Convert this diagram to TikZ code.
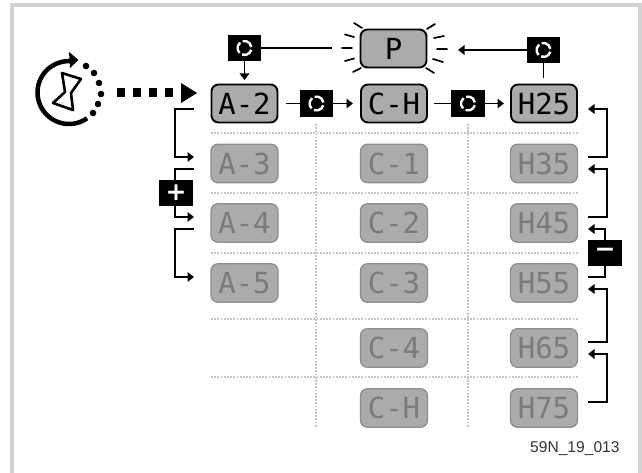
\documentclass[tikz,border=0pt]{standalone}
\usepackage{fontspec}
\setmainfont{Liberation Sans}
\newfontfamily\lcdfont{DejaVu Sans Mono}
\newfontfamily\signfont{DejaVu Sans}
\usetikzlibrary{arrows.meta,calc}
\definecolor{framegray}{HTML}{D2D3D5}
\definecolor{boxfill}{HTML}{ABABAB}
\definecolor{dimedge}{HTML}{8E8E8E}
\definecolor{dimtext}{HTML}{7B7B7B}
\definecolor{dotgray}{HTML}{C4C4C4}
\tikzset{
  lcdon/.style={draw=black,line width=1.9pt,fill=boxfill,rounded corners=7pt,minimum width=66pt,minimum height=38pt,inner sep=0pt,text=black,font=\lcdfont\fontsize{29}{29}\selectfont},
  lcdoff/.style={draw=dimedge,line width=1.3pt,fill=boxfill,rounded corners=7pt,minimum width=67pt,minimum height=38.5pt,inner sep=0pt,text=dimtext,font=\lcdfont\fontsize{29}{29}\selectfont},
  iconbox/.style={fill=black,minimum width=33.5pt,minimum height=26.5pt,inner sep=0pt},
  signbox/.style={fill=black,minimum width=33.5pt,minimum height=26.5pt,inner sep=0pt,text=white,font=\signfont\bfseries\fontsize{25}{25}\selectfont},
  conn/.style={line width=1.9pt,draw=black},
  tip/.style={-{Triangle[length=6.5pt,width=9.5pt]}},
  guide/.style={draw=dotgray,line width=1.8pt,dash pattern=on 1.7pt off 1.5pt},
  ray/.style={line width=1.7pt,draw=black,line cap=round},
  cyc/.style={draw=white,line width=2.4pt},
}
\newcommand{\cycicon}[1]{%
  \foreach \aa in {15,135,255}{\draw[cyc] ($(#1)+({7*cos(\aa)},{7*sin(\aa)})$) arc[start angle=\aa,end angle=\aa+96,radius=7];}}
\begin{document}
\begin{tikzpicture}[x=1pt,y=-1pt]
\useasboundingbox (0,0) rectangle (642,473);
\fill[white] (0,0) rectangle (642,473);
% frame
\draw[framegray,line width=4pt] (12,473) -- (12,5) -- (640,5) -- (640,473);
% guides
\foreach \yy in {133,193,253,319,377}{\draw[guide] (211,\yy) -- (578,\yy);}
\foreach \xx in {316,468}{\draw[guide] (\xx,124) -- (\xx,427);}
% boxes
\node[lcdon] (P) at (393.5,48.5) {P};
\node[lcdon] (a2) at (244.5,103.5) {A-2};
\node[lcdon] (ch) at (394,103.5) {C-H};
\node[lcdon] (h25) at (544,103.5) {H25};
\node[lcdoff] (a3) at (244.5,163.5) {A-3};
\node[lcdoff] (a4) at (244.5,223) {A-4};
\node[lcdoff] (a5) at (244.5,283) {A-5};
\node[lcdoff] (c1) at (394,163.5) {C-1};
\node[lcdoff] (c2) at (394,223) {C-2};
\node[lcdoff] (c3) at (394,283) {C-3};
\node[lcdoff] (c4) at (394,348) {C-4};
\node[lcdoff] (c5) at (394,408) {C-H};
\node[lcdoff] (h3) at (544,163.5) {H35};
\node[lcdoff] (h4) at (544,223) {H45};
\node[lcdoff] (h5) at (544,283) {H55};
\node[lcdoff] (h6) at (544,348) {H65};
\node[lcdoff] (h7) at (544,408) {H75};
% icon boxes
\node[iconbox] (i1) at (244.5,48) {};
\node[iconbox] (i2) at (543.5,50) {};
\node[iconbox] (i3) at (316.5,103.5) {};
\node[iconbox] (i4) at (468,103.5) {};
\cycicon{i1}\cycicon{i2}\cycicon{i3}\cycicon{i4}
\node[signbox] (plus) at (176,193) {+};
\node[signbox] (minus) at (605,253) {−};
% top connectors
\coordinate (pl) at (332,48);
\coordinate (pr) at (458,50);
\coordinate (h25top) at (543.5,78);
\coordinate (a2top) at (244.5,80);
\draw[conn] (i1.east) -- (pl);
\draw[conn,tip] (i1.south) -- (a2top);
\draw[conn,tip] (i2.west) -- (pr);
\draw[conn] (i2.south) -- (h25top);
\coordinate (a2r) at (286,103.5);
\coordinate (chl) at (353,103.5);
\coordinate (chr) at (434,103.5);
\coordinate (h25l) at (504,103.5);
\draw[conn] (a2r) -- (i3.west);
\draw[conn,tip] (i3.east) -- (chl);
\draw[conn] (chr) -- (i4.west);
\draw[conn,tip] (i4.east) -- (h25l);
% rays
\foreach \xa/\ya/\xb/\yb in {342/48/352/48,345/34.5/354/37,345/61/354/58.5,354/23/362/28,353/72/361/68,437/49/447/49,434/38/444/36,433/59/443/62,427/29/435/24,426/68/434/73}{\draw[ray] (\xa,\ya) -- (\xb,\yb);}
% left brackets
\coordinate (l1s) at (194,109);
\coordinate (l1e) at (194,157);
\coordinate (l2s) at (194,169);
\coordinate (l2e) at (194,217);
\coordinate (l3s) at (194,229);
\coordinate (l3e) at (194,277);
\draw[conn,tip] (l1s) -- (175,109) -- (175,157) -- (l1e);
\draw[conn] (l2s) -- (175,169) -- (plus.north -| 175,0);
\draw[conn,tip] (plus.south -| 175,0) -- (175,217) -- (l2e);
\draw[conn,tip] (l3s) -- (175,229) -- (175,277) -- (l3e);
% right brackets
\coordinate (r1s) at (588,157);
\coordinate (r1e) at (588,109);
\coordinate (r2s) at (588,217);
\coordinate (r2e) at (588,169);
\coordinate (r3e) at (588,229);
\coordinate (r3s) at (588,277);
\coordinate (r4s) at (588,342);
\coordinate (r4e) at (588,289);
\coordinate (r5s) at (588,402);
\coordinate (r5e) at (588,354);
\draw[conn,tip] (r1s) -- (607,157) -- (607,109) -- (r1e);
\draw[conn,tip] (r2s) -- (607,217) -- (607,169) -- (r2e);
\draw[conn,tip] (minus.north) -- (605,229) -- (r3e);
\draw[conn] (minus.south) -- (605,277) -- (r3s);
\draw[conn,tip] (r4s) -- (607,342) -- (607,289) -- (r4e);
\draw[conn,tip] (r5s) -- (607,402) -- (607,354) -- (r5e);
% timer icon
\draw[line width=4.5pt] (69,92.5) ++(55:31.5) arc[start angle=55,end angle=276,radius=31.5];
\fill (69,52) -- (78.5,60) -- (70,68) -- cycle;
\foreach \xx/\yy in {86/66,94/73,99/83,101/94,98/104,93/113}{\fill (\xx,\yy) circle[radius=3.3];}
\draw[line width=2.6pt,line join=round] (62,73) -- (81,79) -- (71,93) -- (73,110) -- (53,103) -- (65,92) -- cycle;
% dotted arrow
\coordinate (ds) at (117,93);
\coordinate (dm) at (181,93);
\coordinate (de) at (197,93);
\draw[line width=9pt,dash pattern=on 7.5pt off 8.5pt] (ds) -- (dm);
\fill (181,83) -- (de) -- (181,103) -- cycle;
% label
\node[text=black!80,font=\fontsize{15.6}{17}\selectfont,anchor=base west,inner sep=0pt] (lbl) at (530,452) {59N\_19\_013};
\end{tikzpicture}
\end{document}
